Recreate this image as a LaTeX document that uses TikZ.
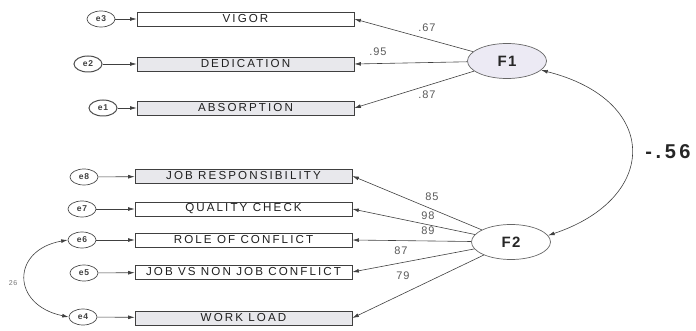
\documentclass[tikz,border=0pt]{standalone}
\usepackage{fontspec}
\usetikzlibrary{arrows.meta,shapes.geometric}
\newfontfamily\lab[LetterSpace=18]{Liberation Sans}
\newfontfamily\labn[LetterSpace=8]{Liberation Sans}
\definecolor{boxfill}{RGB}{232,232,236}
\definecolor{latfill}{RGB}{236,234,244}
\begin{document}
\begin{tikzpicture}[x=1pt,y=-1pt,
  obs/.style={draw=black!75, line width=0.7pt, minimum width=217pt, minimum height=14pt, inner sep=0pt,
    font=\lab\fontsize{11.6}{12}\selectfont, text=black!88},
  err/.style={ellipse, draw=black!70, line width=0.7pt, minimum width=28pt, minimum height=16pt, inner sep=0pt,
    font=\labn\bfseries\fontsize{8.5}{9}\selectfont, text=black!75},
  lat/.style={ellipse, draw=black!60, line width=0.7pt, minimum width=79pt, minimum height=35pt, inner sep=0pt,
    font=\labn\bfseries\fontsize{15}{16}\selectfont, text=black!85},
  arr/.style={-{Latex[length=6.5pt,width=3.8pt]}, draw=black!75, line width=0.6pt},
  darr/.style={{Latex[length=6.5pt,width=3.8pt]}-{Latex[length=6.5pt,width=3.8pt]}, draw=black!75, line width=0.6pt},
  coef/.style={font=\labn\fontsize{11}{12}\selectfont, text=black!65, inner sep=0pt}
]
\useasboundingbox (0,0) rectangle (696,331);

% top observed variables
\node[obs] (vig) at (245.5,19) {VIGOR};
\node[obs, fill=boxfill] (ded) at (245.5,64) {DEDICATION};
\node[obs, fill=boxfill] (abs) at (245.5,108) {ABSORPTION};

\node[err] (e3) at (101,19) {e3};
\node[err, line width=1pt] (e2) at (88,64) {e2};
\node[err, line width=1pt] (e1) at (103,108) {e1};

\node[lat, fill=latfill] (F1) at (507,61) {F1};

% bottom observed variables
\node[obs, fill=boxfill] (jr) at (243.5,176) {JOB RESPONSIBILITY};
\node[obs] (qc) at (243.5,209) {QUALITY CHECK};
\node[obs] (rc) at (243.5,240) {ROLE OF CONFLICT};
\node[obs] (jv) at (243.5,272) {JOB VS NON JOB CONFLICT};
\node[obs, fill=boxfill] (wl) at (243.5,318) {WORK LOAD};

\node[err] (e8) at (84,177) {e8};
\node[err] (e7) at (82,209) {e7};
\node[err] (e6) at (82,240) {e6};
\node[err] (e5) at (84,273) {e5};
\node[err] (e4) at (83,317) {e4};

\node[lat] (F2) at (511,242) {F2};

% error arrows
\draw[arr] (e3) -- (vig);
\draw[arr] (e2) -- (ded);
\draw[arr] (e1) -- (abs);
\draw[arr] (e8) -- (jr);
\draw[arr] (e7) -- (qc);
\draw[arr] (e6) -- (rc);
\draw[arr] (e5) -- (jv);
\draw[arr] (e4) -- (wl);

% loadings
\draw[arr] (F1) -- (vig.east);
\draw[arr] (F1) -- (ded.east);
\draw[arr] (F1) -- (abs.east);
\draw[arr] (F2) -- (jr.east);
\draw[arr] (F2) -- (qc.east);
\draw[arr] (F2) -- (rc.east);
\draw[arr] (F2) -- (jv.east);
\draw[arr] (F2) -- (wl.east);

\node[coef] (l67) at (427,28) {.67};
\node[coef] (l95) at (378,52) {.95};
\node[coef] (l87) at (427,95) {.87};
\node[coef] (l85) at (432,197) {85};
\node[coef] (l98) at (428,216) {98};
\node[coef] (l89) at (428,231) {89};
\node[coef] (l87b) at (401,251) {87};
\node[coef] (l79) at (403,276) {79};

% covariances
\draw[darr] (F1.-15) .. controls (660,100) and (660,198) .. (F2.10);
\node[font=\lab\bfseries\fontsize{20}{22}\selectfont, text=black!85] (cov) at (668,152) {-.56};

\draw[darr] (e6.west) .. controls (11,250) and (11,305) .. (e4.west);
\node[font=\labn\fontsize{7}{8}\selectfont, text=black!55] (c26) at (13,283) {26};
\end{tikzpicture}
\end{document}
